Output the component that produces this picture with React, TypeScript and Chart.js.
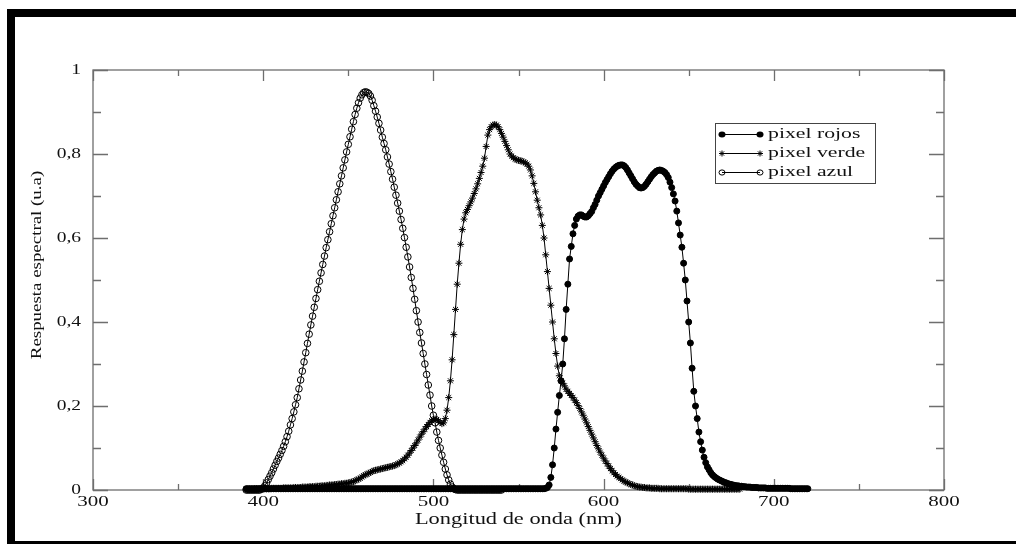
import React, { useEffect, useRef } from "react";
import { Chart, registerables } from "chart.js";

Chart.register(...registerables);

// ---- data -------------------------------------------------------------
const START_NM = 390; // first wavelength of every series
const STEP_NM = 1; // sampling step of every series

const seriesNames = ["pixel rojos", "pixel verde", "pixel azul"];

const xMajorTicks = [300, 400, 500, 600, 700, 800];
const xMajorLabels = ["300", "400", "500", "600", "700", "800"];
const xMinorTicks = [350, 450, 550, 650, 750];
const yMajorTicks = [0, 0.2, 0.4, 0.6, 0.8, 1];
const yMajorLabels = ["0", "0,2", "0,4", "0,6", "0,8", "1"];
const yMinorTicks = [0.1, 0.3, 0.5, 0.7, 0.9];

const xTitle = "Longitud de onda (nm)";
const yTitle = "Respuesta espectral (u.a)";

// pixel rojos, 390..720 nm
const rojos = [
  0.003,0.003,0.003,0.003,0.003,0.003,0.003,0.003,0.003,0.003,
  0.003,0.003,0.003,0.003,0.003,0.003,0.003,0.003,0.003,0.003,
  0.003,0.003,0.003,0.003,0.003,0.003,0.003,0.003,0.003,0.003,
  0.003,0.003,0.003,0.003,0.003,0.003,0.003,0.003,0.003,0.003,
  0.003,0.003,0.003,0.003,0.003,0.003,0.003,0.003,0.003,0.003,
  0.003,0.003,0.003,0.003,0.003,0.003,0.003,0.003,0.003,0.003,
  0.003,0.003,0.003,0.003,0.003,0.003,0.003,0.003,0.003,0.003,
  0.003,0.003,0.003,0.003,0.003,0.003,0.003,0.003,0.003,0.003,
  0.003,0.003,0.003,0.003,0.003,0.003,0.003,0.003,0.003,0.003,
  0.003,0.003,0.003,0.003,0.003,0.003,0.003,0.003,0.003,0.003,
  0.003,0.003,0.003,0.003,0.003,0.003,0.003,0.003,0.003,0.003,
  0.003,0.003,0.003,0.003,0.003,0.003,0.003,0.003,0.003,0.003,
  0.003,0.003,0.003,0.003,0.003,0.003,0.003,0.003,0.003,0.003,
  0.003,0.003,0.003,0.003,0.003,0.003,0.003,0.003,0.003,0.003,
  0.003,0.003,0.003,0.003,0.003,0.003,0.003,0.003,0.003,0.003,
  0.003,0.003,0.003,0.003,0.003,0.003,0.003,0.003,0.003,0.003,
  0.003,0.003,0.003,0.003,0.003,0.003,0.003,0.003,0.003,0.003,
  0.003,0.003,0.003,0.003,0.003,0.003,0.004,0.006,0.012,0.03,
  0.06,0.1,0.145,0.185,0.225,0.26,0.3,0.36,0.43,0.49,
  0.55,0.58,0.61,0.63,0.645,0.652,0.655,0.655,0.652,0.65,
  0.65,0.653,0.658,0.663,0.672,0.68,0.69,0.7,0.708,0.716,
  0.724,0.732,0.739,0.746,0.753,0.759,0.764,0.768,0.771,0.773,
  0.774,0.774,0.772,0.768,0.762,0.755,0.748,0.741,0.734,0.728,
  0.724,0.72,0.719,0.72,0.723,0.728,0.734,0.74,0.746,0.751,
  0.755,0.759,0.761,0.762,0.761,0.759,0.756,0.751,0.744,0.733,
  0.72,0.705,0.688,0.664,0.636,0.607,0.578,0.54,0.5,0.45,
  0.4,0.35,0.29,0.235,0.2,0.17,0.138,0.115,0.095,0.078,
  0.065,0.055,0.048,0.041,0.036,0.032,0.029,0.026,0.024,0.022,
  0.02,0.018,0.017,0.015,0.014,0.013,0.012,0.011,0.01,0.01,
  0.009,0.009,0.008,0.008,0.007,0.007,0.007,0.006,0.006,0.006,
  0.006,0.005,0.005,0.005,0.005,0.005,0.004,0.004,0.004,0.004,
  0.004,0.004,0.004,0.004,0.004,0.004,0.004,0.004,0.004,0.004,
  0.003,0.003,0.003,0.003,0.003,0.003,0.003,0.003,0.003,0.003,
  0.003,
];

// pixel verde, 390..680 nm
const verde = [
  0.002,0.002,0.002,0.002,0.002,0.003,0.003,0.003,0.003,0.003,
  0.003,0.003,0.003,0.003,0.003,0.004,0.004,0.004,0.004,0.004,
  0.004,0.004,0.005,0.005,0.005,0.005,0.005,0.005,0.006,0.006,
  0.006,0.006,0.006,0.007,0.007,0.007,0.007,0.008,0.008,0.008,
  0.008,0.009,0.009,0.009,0.01,0.01,0.01,0.011,0.011,0.012,
  0.012,0.012,0.013,0.013,0.014,0.014,0.015,0.015,0.016,0.016,
  0.017,0.018,0.019,0.02,0.022,0.024,0.026,0.028,0.031,0.034,
  0.036,0.038,0.04,0.042,0.044,0.046,0.047,0.048,0.049,0.05,
  0.051,0.052,0.053,0.054,0.055,0.056,0.057,0.058,0.06,0.062,
  0.064,0.067,0.07,0.074,0.078,0.083,0.088,0.094,0.1,0.106,
  0.112,0.119,0.126,0.133,0.139,0.145,0.151,0.156,0.161,0.165,
  0.168,0.169,0.168,0.165,0.161,0.158,0.16,0.17,0.19,0.22,
  0.26,0.31,0.37,0.43,0.49,0.54,0.585,0.62,0.645,0.66,
  0.668,0.677,0.686,0.695,0.706,0.717,0.729,0.742,0.756,0.771,
  0.79,0.818,0.845,0.858,0.865,0.869,0.87,0.869,0.865,0.858,
  0.849,0.84,0.83,0.82,0.81,0.8,0.795,0.791,0.788,0.786,
  0.785,0.784,0.783,0.781,0.779,0.776,0.771,0.762,0.748,0.73,
  0.71,0.69,0.672,0.655,0.63,0.6,0.56,0.52,0.48,0.44,
  0.4,0.36,0.325,0.295,0.272,0.26,0.254,0.248,0.24,0.235,
  0.23,0.225,0.22,0.214,0.208,0.201,0.194,0.186,0.178,0.169,
  0.16,0.151,0.142,0.133,0.124,0.115,0.106,0.098,0.09,0.083,
  0.076,0.069,0.063,0.057,0.051,0.046,0.041,0.037,0.033,0.03,
  0.027,0.024,0.021,0.019,0.017,0.015,0.013,0.012,0.01,0.009,
  0.008,0.007,0.007,0.006,0.006,0.005,0.005,0.005,0.004,0.004,
  0.004,0.004,0.004,0.003,0.003,0.003,0.003,0.003,0.003,0.003,
  0.003,0.003,0.003,0.003,0.003,0.003,0.003,0.003,0.003,0.003,
  0.002,0.002,0.002,0.002,0.002,0.002,0.002,0.002,0.002,0.002,
  0.002,0.002,0.002,0.002,0.002,0.002,0.002,0.002,0.002,0.002,
  0.002,0.002,0.002,0.002,0.002,0.002,0.002,0.002,0.002,0.002,
  0.002,
];

// pixel azul, 390..540 nm
const azul = [
  0,0,0,0,0,0,0,0,0,0.002,
  0.005,0.01,0.017,0.025,0.033,0.041,0.05,0.059,0.068,0.076,
  0.085,0.094,0.104,0.115,0.127,0.14,0.155,0.17,0.186,0.203,
  0.22,0.241,0.262,0.283,0.305,0.327,0.349,0.371,0.393,0.414,
  0.435,0.456,0.477,0.497,0.517,0.537,0.557,0.577,0.596,0.615,
  0.634,0.653,0.672,0.691,0.71,0.729,0.748,0.767,0.786,0.805,
  0.823,0.841,0.859,0.877,0.894,0.909,0.922,0.933,0.941,0.946,
  0.948,0.947,0.944,0.938,0.928,0.915,0.902,0.888,0.873,0.857,
  0.84,0.825,0.81,0.793,0.776,0.758,0.74,0.721,0.702,0.683,
  0.664,0.644,0.623,0.601,0.578,0.555,0.531,0.506,0.48,0.454,
  0.427,0.4,0.375,0.35,0.325,0.3,0.275,0.25,0.226,0.2,
  0.178,0.16,0.138,0.118,0.1,0.083,0.066,0.05,0.036,0.024,
  0.014,0.007,0.003,0.001,0,0,0,0,0,0,
  0,0,0,0,0,0,0,0,0,0,
  0,0,0,0,0,0,0,0,0,0,
  0,
];

// ---- styling ---------------------------------------------------------
const SERIF = '"Liberation Serif", "DejaVu Serif", serif';
const AXIS_COLOR = "#6e6e6e";
const TEXT_COLOR = "#111";
const W = 1016;
const H = 544;

const toPoints = (vals: number[]) =>
  vals.map((v, i) => ({ x: START_NM + i * STEP_NM, y: v }));

function stretchedText(
  ctx: CanvasRenderingContext2D,
  text: string,
  x: number,
  y: number,
  sx: number,
  align: CanvasTextAlign,
  size: number
) {
  ctx.save();
  ctx.translate(x, y);
  ctx.scale(sx, 1);
  ctx.font = `${size}px ${SERIF}`;
  ctx.fillStyle = TEXT_COLOR;
  ctx.textAlign = align;
  ctx.textBaseline = "middle";
  ctx.fillText(text, 0, 0);
  ctx.restore();
}

function drawMarker(ctx: CanvasRenderingContext2D, kind: number, x: number, y: number) {
  ctx.save();
  ctx.strokeStyle = "#000";
  ctx.fillStyle = "#000";
  ctx.lineWidth = 1;
  if (kind === 0) {
    ctx.beginPath();
    ctx.ellipse(x, y, 3.5, 3, 0, 0, Math.PI * 2);
    ctx.fill();
  } else if (kind === 1) {
    const r = 3;
    ctx.beginPath();
    for (let k = 0; k < 4; k++) {
      const a = (k * Math.PI) / 4;
      ctx.moveTo(x - r * Math.cos(a), y - r * Math.sin(a));
      ctx.lineTo(x + r * Math.cos(a), y + r * Math.sin(a));
    }
    ctx.stroke();
  } else {
    ctx.beginPath();
    ctx.ellipse(x, y, 3, 2.6, 0, 0, Math.PI * 2);
    ctx.stroke();
  }
  ctx.restore();
}

const framePlugin = {
  id: "framePlugin",
  beforeDraw(chart: any) {
    const ctx: CanvasRenderingContext2D = chart.ctx;
    ctx.save();
    ctx.fillStyle = "#fff";
    ctx.fillRect(0, 0, W, H);
    ctx.fillStyle = "#000";
    ctx.fillRect(7, 9, W - 7, 8);
    ctx.fillRect(7, 9, 8, H - 9);
    ctx.fillRect(7, 541, W - 7, 3);
    ctx.restore();
  },
  beforeDatasetsDraw(chart: any) {
    const ctx: CanvasRenderingContext2D = chart.ctx;
    const { left, right, top, bottom } = chart.chartArea;
    const xs = chart.scales.x;
    const ys = chart.scales.y;
    ctx.save();
    ctx.strokeStyle = AXIS_COLOR;
    ctx.lineWidth = 1.3;
    ctx.strokeRect(left, top, right - left, bottom - top);
    ctx.beginPath();
    const xt = (v: number, len: number) => {
      const px = Math.round(xs.getPixelForValue(v)) + 0.5;
      ctx.moveTo(px, bottom);
      ctx.lineTo(px, bottom - len);
      ctx.moveTo(px, top);
      ctx.lineTo(px, top + len);
    };
    const yt = (v: number, len: number) => {
      const py = Math.round(ys.getPixelForValue(v)) + 0.5;
      ctx.moveTo(left, py);
      ctx.lineTo(left + len, py);
      ctx.moveTo(right, py);
      ctx.lineTo(right - len, py);
    };
    xMajorTicks.forEach((v) => xt(v, 11));
    xMinorTicks.forEach((v) => xt(v, 6));
    yMajorTicks.forEach((v) => yt(v, 15));
    yMinorTicks.forEach((v) => yt(v, 8));
    ctx.stroke();
    ctx.restore();
  },
  afterDraw(chart: any) {
    const ctx: CanvasRenderingContext2D = chart.ctx;
    const { left, right, top, bottom } = chart.chartArea;
    const xs = chart.scales.x;
    const ys = chart.scales.y;
    xMajorTicks.forEach((v, i) => {
      stretchedText(ctx, xMajorLabels[i], xs.getPixelForValue(v), bottom + 12, 1.4, "center", 15);
    });
    yMajorTicks.forEach((v, i) => {
      stretchedText(ctx, yMajorLabels[i], left - 12, ys.getPixelForValue(v), 1.3, "right", 15);
    });
    stretchedText(ctx, xTitle, (left + right) / 2, bottom + 30, 1.4, "center", 16);
    // y title, rotated and stretched along its length
    ctx.save();
    ctx.translate(37, (top + bottom) / 2 - 15);
    ctx.rotate(-Math.PI / 2);
    ctx.scale(1.35, 1);
    ctx.font = `14px ${SERIF}`;
    ctx.fillStyle = TEXT_COLOR;
    ctx.textAlign = "center";
    ctx.textBaseline = "middle";
    ctx.fillText(yTitle, 0, 0);
    ctx.restore();

    // legend box
    const bx = 715, by = 123, bw = 160, bh = 60;
    ctx.save();
    ctx.strokeStyle = "#444";
    ctx.lineWidth = 1;
    ctx.strokeRect(bx + 0.5, by + 0.5, bw, bh);
    seriesNames.forEach((name, i) => {
      const ry = by + 11 + i * 19;
      ctx.strokeStyle = "#000";
      ctx.beginPath();
      ctx.moveTo(bx + 7, ry + 0.5);
      ctx.lineTo(bx + 45, ry + 0.5);
      ctx.stroke();
      drawMarker(ctx, i, bx + 7, ry + 0.5);
      drawMarker(ctx, i, bx + 45, ry + 0.5);
      stretchedText(ctx, name, bx + 53, ry, 1.45, "left", 15);
    });
    ctx.restore();
  },
};

export default function App() {
  const canvasRef = useRef<HTMLCanvasElement | null>(null);

  useEffect(() => {
    if (!canvasRef.current) return;
    const common = {
      borderColor: "#000",
      borderWidth: 1,
      tension: 0,
      clip: false as const,
      pointBorderColor: "#000",
      pointBorderWidth: 1,
      pointHoverRadius: 0,
    };
    const chart = new Chart(canvasRef.current, {
      type: "line",
      data: {
        datasets: [
          {
            ...common,
            label: seriesNames[0],
            data: toPoints(rojos),
            pointStyle: "circle",
            pointRadius: 3,
            pointBackgroundColor: "#000",
          },
          {
            ...common,
            label: seriesNames[1],
            data: toPoints(verde),
            pointStyle: "star",
            pointRadius: 3.5,
            pointBackgroundColor: "#000",
          },
          {
            ...common,
            label: seriesNames[2],
            data: toPoints(azul),
            pointStyle: "circle",
            pointRadius: 3.3,
            pointBackgroundColor: "rgba(0,0,0,0)",
          },
        ],
      },
      options: {
        responsive: false,
        animation: false,
        parsing: true,
        layout: { padding: { left: 93, top: 70, right: W - 944, bottom: H - 490 } },
        scales: {
          x: { type: "linear", min: 300, max: 800, display: false },
          y: { type: "linear", min: 0, max: 1, display: false },
        },
        plugins: {
          legend: { display: false },
          tooltip: { enabled: false },
        },
        events: [],
      },
      plugins: [framePlugin],
    });
    return () => chart.destroy();
  }, []);

  return (
    <div style={{ position: "fixed", left: 0, top: 0, width: W, height: H, background: "#fff" }}>
      <canvas ref={canvasRef} width={W} height={H} style={{ width: W, height: H, display: "block" }} />
    </div>
  );
}
